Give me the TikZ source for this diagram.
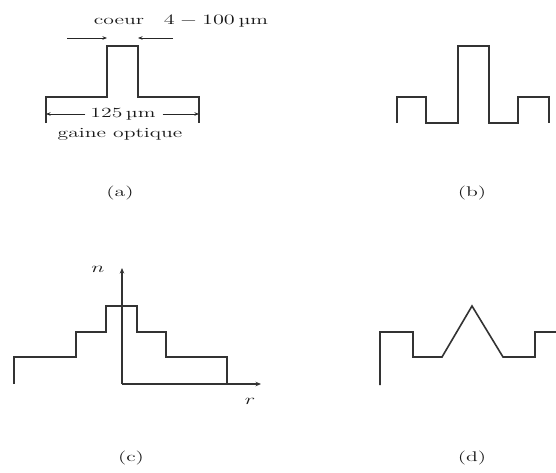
\documentclass[tikz,border=0pt]{standalone}
\usepackage{fontspec}
\usetikzlibrary{arrows.meta}
\newcommand{\wide}[1]{\scalebox{1.55}[1]{#1}}
\begin{document}
\begin{tikzpicture}[x=1pt,y=-1pt,
  prof/.style={line width=1.6pt,black!80,line join=miter},
  dim/.style={line width=1pt,black!85,-{Stealth[length=4.5pt,width=3.5pt]}},
  lbl/.style={inner sep=0pt,font=\fontsize{14}{16}\selectfont,text=black!90}]
\useasboundingbox (0,0) rectangle (556,472);
% (a)
\coordinate (a1) at (46,123);
\coordinate (a2) at (199,123);
\draw[prof] (a1) -- (46,97) -- (107,97) -- (107,46) -- (138,46) -- (138,97) -- (199,97) -- (a2);
\coordinate (cl) at (67,38); \coordinate (cle) at (107,38);
\coordinate (cr) at (173,38); \coordinate (cre) at (138,38);
\draw[dim] (cl) -- (cle);
\draw[dim] (cr) -- (cre);
\node[lbl] (coeur) at (119,21) {\wide{coeur}};
\node[lbl] (range) at (216,21) {\wide{$4-100\,$µm}};
\node[lbl] (d125) at (123,114) {\wide{125\,µm}};
\coordinate (gl) at (46,114); \coordinate (gr) at (199,114);
\draw[dim] (d125.west) ++(-5,0) -- (gl);
\draw[dim] (d125.east) ++(7,0) -- (gr);
\node[lbl] (gaine) at (120,134) {\wide{gaine optique}};
\node[lbl] (la) at (120,193) {\wide{(a)}};
% (b)
\draw[prof] (397,123) -- (397,97) -- (426,97) -- (426,123) -- (458,123) -- (458,46) -- (489,46) -- (489,123) -- (518,123) -- (518,97) -- (549,97) -- (549,123);
\node[lbl] (lb) at (472,193) {\wide{(b)}};
% (c)
\coordinate (O) at (122,384);
\coordinate (ny) at (122,268);
\coordinate (rx) at (261,384);
\draw[prof] (14,384) -- (14,357) -- (76,357) -- (76,332) -- (106,332) -- (106,306) -- (137,306) -- (137,332) -- (166,332) -- (166,357) -- (227,357) -- (227,384);
\draw[line width=1.6pt,black!80,-{Stealth[length=5.5pt,width=4.5pt]}] (O) -- (ny);
\draw[line width=1.6pt,black!80,-{Stealth[length=5.5pt,width=4.5pt]}] (O) -- (rx);
\node[lbl] (n) at (98,269) {\wide{$n$}};
\node[lbl] (r) at (250,401) {\wide{$r$}};
\node[lbl] (lc) at (131,458) {\wide{(c)}};
% (d)
\draw[prof] (380,385) -- (380,332) -- (413,332) -- (413,357) -- (442,357) -- (472,306) -- (503,357) -- (535,357) -- (535,332) -- (556,332);
\node[lbl] (ld) at (472,458) {\wide{(d)}};
\end{tikzpicture}
\end{document}
